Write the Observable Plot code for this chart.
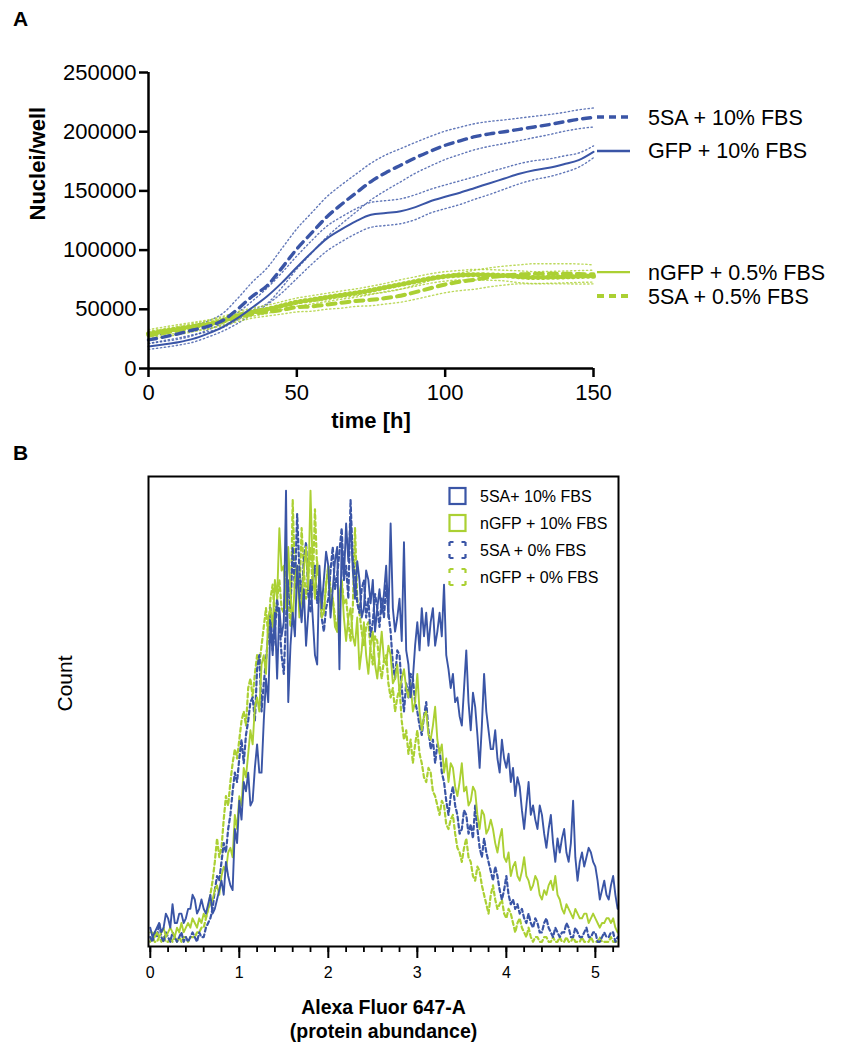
<!DOCTYPE html>
<html><head><meta charset="utf-8">
<script src="https://cdn.jsdelivr.net/npm/d3@7"></script>
<script src="https://cdn.jsdelivr.net/npm/@observablehq/plot@0.6"></script>
<style>
html,body{margin:0;padding:0;background:#fff;}
#root{position:relative;width:855px;height:1049px;}
.panel{position:absolute;left:0;}
</style></head><body>
<div id="root">
<div id="pa" class="panel" style="top:0"></div>
<div id="pb" class="panel" style="top:440px"></div>
</div>
<script>
const BLUE = "#3a55a6", GREEN = "#abd033";
const FONT = "'Liberation Sans', Arial, Helvetica, sans-serif";

// ---------- Panel A data (nuclei per well over time) ----------
const timeH = [0,5,10,15,20,25,30,35,40,45,50,55,60,65,70,75,80,85,90,95,100,105,110,115,120,125,130,135,140,145,150];
const sa10Mean = [24200,26500,29300,32500,35500,40500,50000,61000,70000,85000,101000,114500,127800,138500,148300,157900,165400,171700,178000,183500,188500,192300,195800,198200,200000,202000,204000,206000,208300,210500,212000];
const sa10Sd   = [3000,3000,3500,4000,4500,6000,9000,12000,15000,16500,17000,17000,17000,16500,16000,15500,15000,14000,13000,12500,12000,11500,11000,10500,10000,9500,9000,8500,8000,8000,8000];
const gfp10Mean = [18600,20300,22200,25000,29500,35000,42500,51500,61000,72500,85500,98000,109500,117500,124500,129800,131300,132800,136300,141300,145000,148500,152500,156500,160500,164500,167500,169500,172500,176000,183000];
const gfp10Sd   = [2500,2500,2500,2800,3000,3500,4500,5500,7000,8500,9500,10000,10500,10500,10500,10500,10500,10500,10500,10000,10000,10000,9500,9500,9000,8500,8000,7500,7000,6000,5000];
const ngfp05Mean = [29300,31500,33500,35500,37500,40500,44500,47500,50000,53000,56000,58000,60000,62000,63800,66000,68500,71000,73500,76000,77800,78800,79200,79000,78500,77500,76800,77000,77300,77700,78000];
const ngfp05Sd   = [3500,3500,3500,3500,3500,3500,3500,3500,3500,3500,3500,3500,3500,3500,3500,3500,3500,4000,4000,4000,4000,4000,4500,4500,4500,5000,5000,5000,5000,5000,5000];
const sa05Mean = [27900,30000,32100,34500,36700,39500,43000,46000,47800,49500,51800,52400,54000,55500,57000,58000,59500,61500,64500,67800,71000,73300,75000,77000,78500,79500,80000,80000,80000,79800,79500];
const sa05Sd   = [3500,3500,3500,3500,3500,3500,3500,3500,3500,3500,4000,4000,4000,4500,4500,5000,5000,5500,6000,6500,7000,7500,8000,8000,8000,8000,8500,8500,8500,8500,8000];
const seriesNamesA = ["5SA + 10% FBS","GFP + 10% FBS","nGFP + 0.5% FBS","5SA + 0.5% FBS"];
const legendAnchorA = [212000,183300,81000,60800];
const yTicksA = [0,50000,100000,150000,200000,250000];
const xTicksA = [0,50,100,150];

// ---------- Panel B data (histogram counts, bin width 0.025) ----------
const binWidthB = 0.025;
const sa10Hist = [
4,2,3,4,5,3,4,7,6,4,9,5,5,7,7,5,6,8,8,11,
10,7,8,10,8,7,9,11,7,8,10,12,14,11,18,15,13,12,25,22,
31,27,35,33,37,30,31,38,43,37,37,48,57,52,69,62,71,57,72,66,
69,97,52,64,71,66,81,74,69,76,64,71,78,70,62,60,81,72,78,84,
81,70,76,82,85,59,86,78,90,82,91,80,74,82,78,70,72,80,78,73,
78,67,72,76,71,75,81,70,90,72,67,70,74,65,86,63,60,53,57,64,
69,63,72,66,71,64,69,72,64,67,71,66,77,62,59,55,58,52,53,49,
47,55,63,52,46,54,51,45,38,47,58,50,46,42,42,46,40,37,44,40,
38,41,35,38,32,36,34,29,25,30,35,28,30,27,25,30,28,24,21,25,
28,22,18,23,20,23,25,20,18,22,31,19,14,18,20,17,19,21,20,18,
17,14,10,12,14,11,10,13,15,11,8];
const ngfp10Hist = [
3,3,2,3,2,3,4,2,3,4,3,2,4,3,5,3,4,5,4,6,
5,4,6,5,7,6,8,9,10,12,13,11,15,17,16,20,21,19,28,25,
32,30,38,36,41,46,43,51,53,50,60,62,58,70,72,68,78,74,89,80,
81,72,85,75,69,78,81,70,74,80,85,76,97,80,74,82,78,70,71,77,
81,72,74,68,67,75,78,70,65,70,72,66,64,70,59,63,69,62,58,64,
67,60,57,62,67,61,60,64,62,56,57,60,54,57,59,55,53,56,50,52,
58,50,46,49,50,45,44,47,51,44,41,43,37,40,35,39,38,34,32,35,
39,33,34,30,31,34,33,28,25,29,28,24,25,27,25,22,20,23,25,19,
18,20,15,17,18,15,14,16,19,15,14,12,13,15,14,11,10,12,11,13,
14,12,15,11,10,8,7,9,8,7,6,8,7,6,6,7,7,5,6,7,
6,5,4,5,5,6,6,5,6,4,3];
const sa0Hist = [
2,1,3,2,5,2,1,3,2,1,3,2,1,2,3,1,2,1,2,3,
2,1,3,2,2,4,5,6,8,12,15,14,18,22,20,25,28,33,37,35,
40,44,39,45,48,52,53,48,59,62,50,56,61,66,72,63,67,74,69,62,
58,70,78,72,85,76,92,80,74,82,86,75,71,78,81,73,78,70,67,72,
74,80,85,76,79,84,89,78,81,74,95,82,79,73,71,76,78,70,74,66,
69,75,72,68,74,70,77,71,67,60,57,63,62,55,50,56,53,58,57,52,
50,47,45,49,52,46,42,44,39,43,42,37,35,31,28,32,34,30,28,24,
25,29,28,24,26,23,30,25,21,19,23,20,18,16,14,17,15,12,10,12,
15,11,9,10,8,9,7,8,6,5,7,5,4,6,5,3,3,5,6,4,
3,2,4,3,2,3,3,5,4,2,2,4,3,2,2,3,4,2,2,3,
3,1,1,2,3,2,2,3,3,1,2];
const ngfp0Hist = [
1,2,1,1,2,1,2,1,1,2,1,2,1,2,1,2,2,1,2,2,
2,3,3,4,4,6,8,11,14,18,23,19,21,27,32,30,35,39,42,40,
44,48,50,47,55,57,53,58,62,60,64,68,72,66,74,77,69,74,78,72,
71,80,74,68,95,78,81,74,89,80,74,79,85,76,93,80,78,72,71,77,
81,76,74,70,67,72,78,73,74,69,65,72,89,74,71,67,64,68,69,63,
60,66,65,60,57,61,62,56,53,55,50,53,55,48,44,46,41,44,39,43,
46,41,39,36,35,38,37,33,32,30,28,31,30,26,25,27,28,24,21,20,
18,21,23,19,18,15,14,17,16,13,11,9,7,11,13,10,8,9,10,7,
6,8,7,5,3,5,6,4,3,2,4,2,1,2,2,1,1,2,2,1,
1,2,1,1,2,1,1,2,1,1,2,1,1,1,2,1,1,1,2,1,
1,1,2,1,1,1,1,2,1,1,1];
const seriesNamesB = ["5SA+ 10% FBS","nGFP + 10% FBS","5SA + 0% FBS","nGFP + 0% FBS"];
const majorTicksB = [0,1,2,3,4,5];
const minorTicksB = [0,0.2,0.4,0.6,0.8,1,1.2,1.4,1.6,1.8,2,2.2,2.4,2.6,2.8,3,3.2,3.4,3.6,3.8,4,4.2,4.4,4.6,4.8,5,5.2];
const xLabelB = ["Alexa Fluor 647-A","(protein abundance)"];

// ---------- Panel A ----------
const seriesA = [
  {name: seriesNamesA[0], mean: sa10Mean, sd: sa10Sd, color: BLUE, style: "dash", lw: 3.4},
  {name: seriesNamesA[1], mean: gfp10Mean, sd: gfp10Sd, color: BLUE, style: "solid", lw: 2},
  {name: seriesNamesA[2], mean: ngfp05Mean, sd: ngfp05Sd, color: GREEN, style: "tick", lw: 2.2},
  {name: seriesNamesA[3], mean: sa05Mean, sd: sa05Sd, color: GREEN, style: "dash", lw: 4}
];
const rowsOf = s => timeH.map((t, i) => ({t, m: s.mean[i], lo: s.mean[i] - s.sd[i], hi: s.mean[i] + s.sd[i]}));
const marksA = [];
for (const s of seriesA) {
  const rows = rowsOf(s);
  const dot = {x: "t", stroke: s.color, strokeWidth: 1.4, strokeDasharray: "1.3 2.7", curve: "monotone-x", strokeOpacity: 0.8};
  marksA.push(Plot.line(rows, {...dot, y: "lo"}), Plot.line(rows, {...dot, y: "hi"}));
}
for (const s of [seriesA[3], seriesA[2], seriesA[1], seriesA[0]]) {
  const rows = rowsOf(s);
  const base = {x: "t", y: "m", stroke: s.color, curve: "monotone-x", strokeWidth: s.lw};
  if (s.style === "dash") marksA.push(Plot.line(rows, {...base, strokeDasharray: "8 6"}));
  else if (s.style === "solid") marksA.push(Plot.line(rows, base));
  else marksA.push(Plot.line(rows, base), Plot.line(rows, {...base, strokeWidth: 5, strokeDasharray: "1 4"}));
}

const plotA = Plot.plot({
  width: 855, height: 450,
  marginLeft: 148, marginRight: 262, marginTop: 72, marginBottom: 82,
  x: {domain: [0, 150], axis: null},
  y: {domain: [0, 250000], axis: null},
  style: {fontFamily: FONT, background: "white", color: "black", overflow: "visible"},
  marks: [
    ...marksA,
    Plot.ruleX([0], {strokeWidth: 2.5}),
    Plot.ruleY([0], {strokeWidth: 2.5}),
    Plot.axisY({ticks: yTicksA, tickSize: 9, tickPadding: 3, fontSize: 22, strokeWidth: 2.5, tickFormat: d => String(d), label: null}),
    Plot.axisX({ticks: xTicksA, tickSize: 9, tickPadding: 7, fontSize: 22, strokeWidth: 2.5, tickFormat: d => String(d), label: null}),
    Plot.text(["Nuclei/well"], {text: d => d, frameAnchor: "left", dx: -111, rotate: -90, fontSize: 22, fontWeight: "bold"}),
    Plot.text(["time [h]"], {text: d => d, frameAnchor: "bottom", dy: 59, fontSize: 22, fontWeight: "bold"})
  ]
});
document.getElementById("pa").appendChild(plotA);
{
  const svg = d3.select(plotA);
  const xs = plotA.scale("x"), ys = plotA.scale("y");
  const xEnd = xs.apply(150);
  seriesA.forEach((s, i) => {
    const y = ys.apply(legendAnchorA[i]);
    svg.append("line").attr("x1", xEnd + 4).attr("x2", xEnd + 37).attr("y1", y).attr("y2", y)
      .attr("stroke", s.color).attr("stroke-width", s.style === "dash" ? s.lw : 2.4)
      .attr("stroke-dasharray", s.style === "dash" ? "7 5" : null);
    svg.append("text").attr("x", xEnd + 55).attr("y", y).attr("dy", "0.35em")
      .attr("text-anchor", "start").attr("font-size", 21.5).attr("fill", "black").text(s.name);
  });
  svg.append("text").attr("x", 13).attr("y", 26).attr("text-anchor", "start")
    .attr("font-size", 21).attr("font-weight", "bold").attr("fill", "black").text("A");
}

// ---------- Panel B ----------
const seriesB = [
  {name: seriesNamesB[3], counts: ngfp0Hist, color: GREEN, dashed: true},
  {name: seriesNamesB[2], counts: sa0Hist, color: BLUE, dashed: true},
  {name: seriesNamesB[1], counts: ngfp10Hist, color: GREEN, dashed: false},
  {name: seriesNamesB[0], counts: sa10Hist, color: BLUE, dashed: false}
];
const linesB = seriesB.map(s => Plot.line(
  s.counts.map((c, i) => ({v: i * binWidthB, c})),
  {x: "v", y: "c", stroke: s.color, strokeWidth: s.dashed ? 2.2 : 1.9, strokeDasharray: s.dashed ? "4 3" : null}
));
const plotB = Plot.plot({
  width: 855, height: 609,
  marginLeft: 148, marginRight: 237, marginTop: 36, marginBottom: 103,
  x: {domain: [-0.02, 5.26], axis: null},
  y: {domain: [0, 100], axis: null},
  style: {fontFamily: FONT, background: "white", color: "black", overflow: "visible"},
  marks: [
    ...linesB,
    Plot.frame({strokeWidth: 2}),
    Plot.axisX({ticks: minorTicksB, tickSize: 6, strokeWidth: 1.8, tickFormat: () => "", label: null}),
    Plot.axisX({ticks: majorTicksB, tickSize: 12, tickPadding: 8, fontSize: 16, strokeWidth: 2, tickFormat: d => String(d), label: null}),
    Plot.text(["Count"], {text: d => d, frameAnchor: "left", dx: -83, rotate: -90, fontSize: 21}),
    Plot.text([xLabelB[0]], {text: d => d, frameAnchor: "bottom", dy: 67, fontSize: 19.5, fontWeight: "bold"}),
    Plot.text([xLabelB[1]], {text: d => d, frameAnchor: "bottom", dy: 91, fontSize: 19.5, fontWeight: "bold"})
  ]
});
document.getElementById("pb").appendChild(plotB);
{
  const svg = d3.select(plotB);
  const order = [seriesB[3], seriesB[2], seriesB[1], seriesB[0]];
  order.forEach((s, i) => {
    const cy = 56 + i * 27;
    svg.append("rect").attr("x", 449.5).attr("y", cy - 8).attr("width", 16).attr("height", 16)
      .attr("fill", "none").attr("stroke", s.color).attr("stroke-width", 2.2)
      .attr("stroke-dasharray", s.dashed ? "4 8 4 0" : null);
    svg.append("text").attr("x", 480).attr("y", cy).attr("dy", "0.35em").attr("text-anchor", "start")
      .attr("font-size", 16).attr("fill", "black").text(s.name);
  });
  svg.append("text").attr("x", 13).attr("y", 20).attr("text-anchor", "start")
    .attr("font-size", 21).attr("font-weight", "bold").attr("fill", "black").text("B");
}
</script>
</body></html>
